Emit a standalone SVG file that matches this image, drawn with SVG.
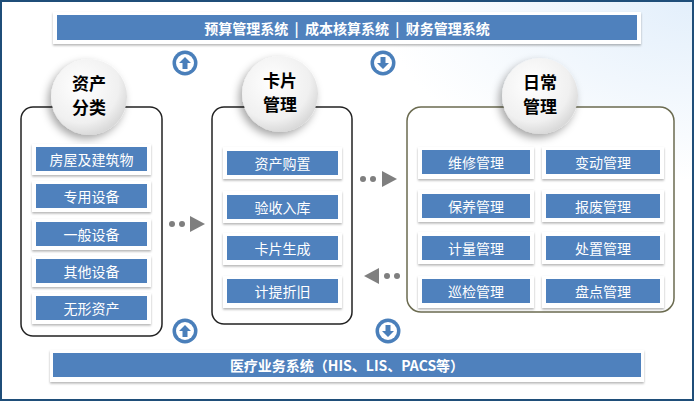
<svg xmlns="http://www.w3.org/2000/svg" width="694" height="401" viewBox="0 0 694 401">
<defs>
<radialGradient id="bg" cx="1" cy="0" r="0.45" gradientTransform="scale(1 1)"><stop offset="0" stop-color="#e3effb"/><stop offset="1" stop-color="#fff"/></radialGradient>
<radialGradient id="ball" cx="0.4" cy="0.35" r="0.7"><stop offset="0" stop-color="#fff"/><stop offset="0.7" stop-color="#f0f0f0"/><stop offset="1" stop-color="#d4d4d4"/></radialGradient>
<filter id="sh" x="-40%" y="-40%" width="180%" height="180%"><feDropShadow dx="-3" dy="4" stdDeviation="4" flood-color="#000" flood-opacity="0.35"/></filter>
<filter id="cs" x="-10%" y="-20%" width="120%" height="160%"><feDropShadow dx="0" dy="1.5" stdDeviation="1.2" flood-color="#000" flood-opacity="0.3"/></filter>
<symbol id="up" viewBox="-13 -13 26 26"><circle r="12.5" fill="#4a7fba"/><circle r="9" fill="#fff"/><path d="M0 -6 L6 0 H2.5 V6 H-2.5 V0 H-6 Z" fill="#4a7fba"/></symbol>
<symbol id="dn" viewBox="-13 -13 26 26"><circle r="12.5" fill="#4a7fba"/><circle r="9" fill="#fff"/><path d="M0 6 L6 0 H2.5 V-6 H-2.5 V0 H-6 Z" fill="#4a7fba"/></symbol>
</defs>
<style>
.bar{fill:#4f81bd}
.card{fill:#fff;filter:url(#cs)}
.it{fill:#4f81bd}
.t{font-family:"Noto Sans CJK SC","Liberation Sans",sans-serif;font-size:14px;fill:#fff;text-anchor:middle;dominant-baseline:central}
.bt{font-family:"Noto Sans CJK SC","Liberation Sans",sans-serif;font-size:14px;font-weight:bold;fill:#fff;text-anchor:middle;dominant-baseline:central}
.ct{font-family:"Noto Sans CJK SC","Liberation Sans",sans-serif;font-size:17px;font-weight:bold;fill:#000;text-anchor:middle}
.pan{fill:#fff;stroke:#222;stroke-width:1.5}
</style>
<rect x="1" y="1" width="692" height="399" fill="url(#bg)" stroke="#1f4e79" stroke-width="2"/>
<g id="top-bar"><rect class="card" x="53" y="12" width="588" height="32"/><rect class="bar" x="57" y="15" width="580" height="25"/><text class="bt" x="347" y="27.5" xml:space="preserve">预算管理系统  |  成本核算系统  |  财务管理系统</text></g>
<g id="bottom-bar"><rect class="card" x="50" y="350" width="594" height="32"/><rect class="bar" x="53" y="353" width="588" height="24"/><text class="bt" x="347" y="365">医疗业务系统（HIS、LIS、PACS等）</text></g>
<g id="icons">
<use href="#up" x="172" y="50" width="26" height="26"/>
<use href="#dn" x="370" y="50" width="26" height="26"/>
<use href="#up" x="172" y="318" width="26" height="26"/>
<use href="#dn" x="375" y="318" width="26" height="26"/>
</g>
<g id="classify">
<rect class="pan" x="21" y="107" width="141" height="229" rx="12"/>
<circle cx="89" cy="97" r="38" fill="url(#ball)" filter="url(#sh)"/>
<text class="ct" x="89" y="90">资产</text><text class="ct" x="89" y="114">分类</text>
<rect class="card" x="32" y="144" width="119" height="31"/><rect class="it" x="36" y="147" width="111" height="24"/><text class="t" x="91.5" y="159">房屋及建筑物</text>
<rect class="card" x="32" y="181" width="119" height="31"/><rect class="it" x="36" y="184" width="111" height="24"/><text class="t" x="91.5" y="196">专用设备</text>
<rect class="card" x="32" y="219" width="119" height="31"/><rect class="it" x="36" y="222" width="111" height="24"/><text class="t" x="91.5" y="234">一般设备</text>
<rect class="card" x="32" y="256" width="119" height="31"/><rect class="it" x="36" y="259" width="111" height="24"/><text class="t" x="91.5" y="271">其他设备</text>
<rect class="card" x="32" y="293" width="119" height="31"/><rect class="it" x="36" y="296" width="111" height="24"/><text class="t" x="91.5" y="308">无形资产</text>
</g>
<g id="card-mgmt">
<rect class="pan" x="212" y="107" width="140" height="217" rx="12"/>
<circle cx="280" cy="94" r="38" fill="url(#ball)" filter="url(#sh)"/>
<text class="ct" x="280" y="87">卡片</text><text class="ct" x="280" y="111">管理</text>
<rect class="card" x="223" y="147" width="119" height="32"/><rect class="it" x="227" y="151" width="111" height="24"/><text class="t" x="282.5" y="163">资产购置</text>
<rect class="card" x="223" y="191" width="119" height="32"/><rect class="it" x="227" y="195" width="111" height="24"/><text class="t" x="282.5" y="207">验收入库</text>
<rect class="card" x="223" y="233" width="119" height="32"/><rect class="it" x="227" y="236" width="111" height="24"/><text class="t" x="282.5" y="248">卡片生成</text>
<rect class="card" x="223" y="276" width="119" height="32"/><rect class="it" x="227" y="279" width="111" height="24"/><text class="t" x="282.5" y="291">计提折旧</text>
</g>
<g id="daily">
<rect x="407" y="107" width="267" height="205" rx="14" fill="#fff" stroke="#6b6b50" stroke-width="1.5"/>
<circle cx="540" cy="96" r="38" fill="url(#ball)" filter="url(#sh)"/>
<text class="ct" x="540" y="89">日常</text><text class="ct" x="540" y="113">管理</text>
<g>
<rect class="card" x="418" y="147" width="116" height="32"/><rect class="it" x="422" y="150" width="108" height="24"/><text class="t" x="476" y="162">维修管理</text>
<rect class="card" x="418" y="190" width="116" height="32"/><rect class="it" x="422" y="194" width="108" height="24"/><text class="t" x="476" y="206">保养管理</text>
<rect class="card" x="418" y="232" width="116" height="32"/><rect class="it" x="422" y="236" width="108" height="24"/><text class="t" x="476" y="248">计量管理</text>
<rect class="card" x="418" y="276" width="116" height="32"/><rect class="it" x="422" y="279" width="108" height="24"/><text class="t" x="476" y="291">巡检管理</text>
<rect class="card" x="542" y="147" width="122" height="32"/><rect class="it" x="546" y="150" width="114" height="24"/><text class="t" x="603" y="162">变动管理</text>
<rect class="card" x="542" y="190" width="122" height="32"/><rect class="it" x="546" y="194" width="114" height="24"/><text class="t" x="603" y="206">报废管理</text>
<rect class="card" x="542" y="232" width="122" height="32"/><rect class="it" x="546" y="236" width="114" height="24"/><text class="t" x="603" y="248">处置管理</text>
<rect class="card" x="542" y="276" width="122" height="32"/><rect class="it" x="546" y="279" width="114" height="24"/><text class="t" x="603" y="291">盘点管理</text>
</g>
</g>
<g id="connectors" fill="#7f7f7f">
<circle cx="172" cy="224" r="3"/><circle cx="182" cy="224" r="3"/><path d="M190 216 L205 224 L190 232 Z"/>
<circle cx="363" cy="179" r="3"/><circle cx="373" cy="179" r="3"/><path d="M382 171 L397 179 L382 187 Z"/>
<circle cx="387" cy="276" r="3"/><circle cx="397" cy="276" r="3"/><path d="M379 268 L364 276 L379 284 Z"/>
</g>
</svg>
